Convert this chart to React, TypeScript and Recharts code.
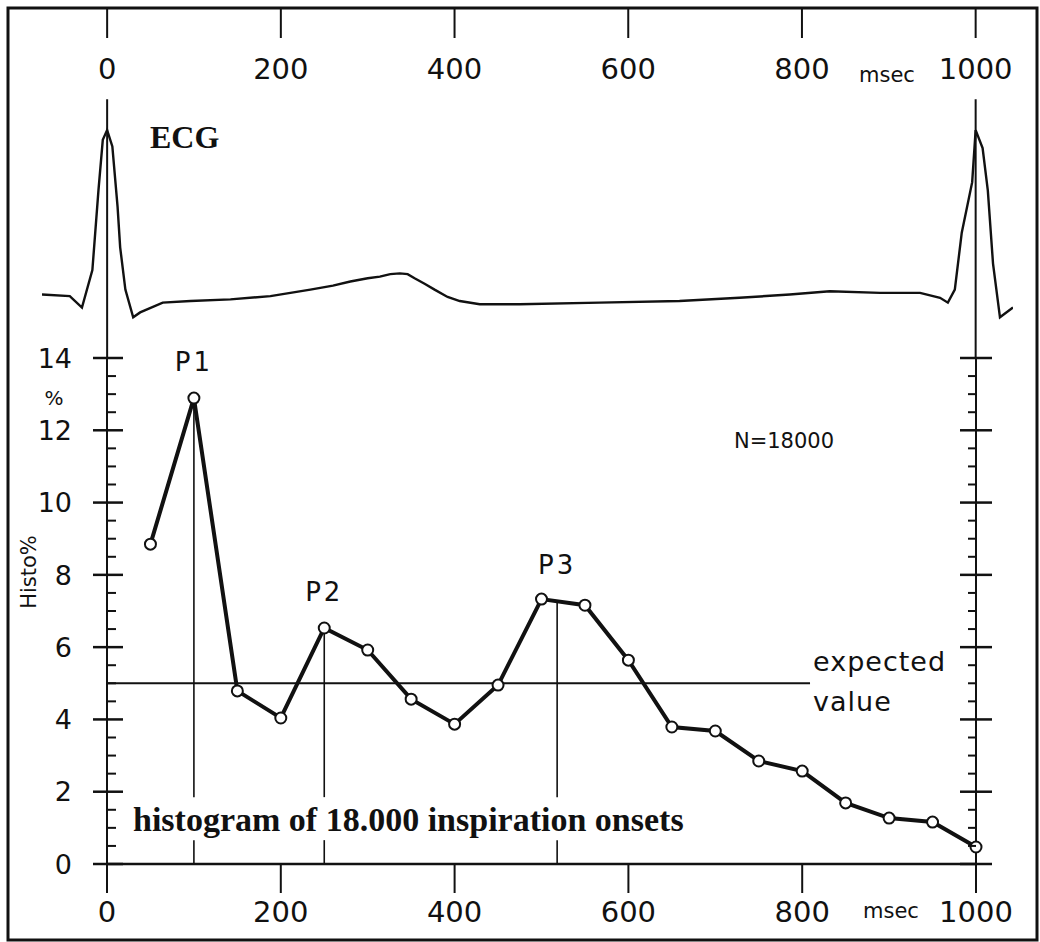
import React from "react";
import { ComposedChart, LineChart, Line, XAxis, YAxis, ReferenceLine } from "recharts";

const INK = "#111";
const SANS = "'DejaVu Sans', sans-serif";
const SERIF = "'Liberation Serif', serif";

// shared msec axis (top for the ECG, bottom for the histogram)
const msecTicks = [0, 200, 400, 600, 800, 1000];

// ECG trace: msec relative to R peak, amplitude in arbitrary mV
const ecgMsec = [-75, -43, -29, -17, -10, -5, 0, 6, 12, 15, 21, 30, 38, 64, 96, 142, 188, 234, 260, 280, 300, 314, 326, 337, 346, 354, 366, 377, 392, 406, 429, 475, 567, 659, 728, 786, 832, 890, 936, 959, 968, 976, 984, 996, 1000, 1008, 1014, 1020, 1028, 1043];
const ecgMv = [-0.01, -0.02, -0.09, 0.14, 0.63, 0.94, 1.0, 0.9, 0.53, 0.28, 0.02, -0.15, -0.12, -0.06, -0.05, -0.04, -0.02, 0.02, 0.045, 0.07, 0.09, 0.1, 0.115, 0.12, 0.115, 0.09, 0.055, 0.02, -0.025, -0.05, -0.07, -0.07, -0.06, -0.05, -0.03, -0.01, 0.01, 0.0, 0.0, -0.03, -0.06, 0.02, 0.37, 0.68, 1.0, 0.89, 0.63, 0.18, -0.15, -0.09];

// histogram of inspiration onsets
const binMsec = [50, 100, 150, 200, 250, 300, 350, 400, 450, 500, 550, 600, 650, 700, 750, 800, 850, 900, 950, 1000];
const histoPct = [8.85, 12.89, 4.79, 4.04, 6.53, 5.92, 4.56, 3.87, 4.95, 7.33, 7.16, 5.64, 3.79, 3.68, 2.85, 2.57, 1.69, 1.27, 1.16, 0.47];
const pctTicks = [0, 0.5, 1, 1.5, 2, 2.5, 3, 3.5, 4, 4.5, 5, 5.5, 6, 6.5, 7, 7.5, 8, 8.5, 9, 9.5, 10, 10.5, 11, 11.5, 12, 12.5, 13, 13.5, 14];
const expectedPct = 5;
const expectedEndMsec = 809;

const peakNames = ["P1", "P2", "P3"];
const peakMsec = [100, 250, 518];
const peakTopPct = [12.89, 6.53, 7.27];
// where the caption interrupts the peak markers
const captionGapPct = [0.66, 1.85];

const ecgData = ecgMsec.map((t, i) => ({ t, mv: ecgMv[i] }));
const histData = binMsec.map((msec, i) => ({ msec, pct: histoPct[i] }));

const LeftTick = ({ x, y, payload }: any) => {
  const v = payload.value;
  if (v % 2 !== 0) {
    return <line x1={x} x2={x + 9} y1={y} y2={y} stroke={INK} strokeWidth={2} />;
  }
  return (
    <g>
      <line x1={x - 14} x2={x + 16} y1={y} y2={y} stroke={INK} strokeWidth={2.5} />
      <text x={x - 35} y={y} dy="0.36em" textAnchor="end" fill={INK} fontSize={27} fontFamily={SANS}>
        {v}
      </text>
    </g>
  );
};

const RightTick = ({ x, y, payload }: any) => {
  const v = payload.value;
  if (v % 2 !== 0) {
    return <line x1={x - 8} x2={x} y1={y} y2={y} stroke={INK} strokeWidth={2} />;
  }
  return <line x1={x - 16} x2={x + 16} y1={y} y2={y} stroke={INK} strokeWidth={2.5} />;
};

const PeakLabel = ({ viewBox, name }: any) => {
  if (!viewBox) return null;
  return (
    <text x={viewBox.x} y={viewBox.y - 27} textAnchor="middle" fill={INK} fontSize={26} fontFamily={SANS} letterSpacing={3}>
      {name}
    </text>
  );
};

const ExpectedLabel = ({ viewBox }: any) => {
  if (!viewBox) return null;
  const x = viewBox.x + viewBox.width + 3;
  return (
    <g fill={INK} fontSize={27} fontFamily={SANS} letterSpacing={1}>
      <text x={x} y={viewBox.y - 12}>expected</text>
      <text x={x} y={viewBox.y + 28}>value</text>
    </g>
  );
};

export default function App() {
  return (
    <div style={{ position: "absolute", left: 0, top: 0, width: 1040, height: 942, background: "#fff" }}>
      <div style={{ position: "absolute", left: 0, top: 0 }}>
        <LineChart width={1040} height={360} data={ecgData} margin={{ top: 8, right: 27, bottom: 2, left: 42 }}>
          <XAxis
            type="number"
            dataKey="t"
            domain={[-75, 1043]}
            allowDataOverflow
            ticks={msecTicks}
            interval={0}
            orientation="top"
            mirror
            axisLine={false}
            tickSize={30}
            tickMargin={20}
            tickLine={{ stroke: INK, strokeWidth: 2 }}
            tick={{ fill: INK, fontSize: 29, fontFamily: SANS }}
          />
          <YAxis type="number" domain={[-0.4, 1.75]} allowDataOverflow hide />
          <ReferenceLine segment={[{ x: 0, y: 1.19 }, { x: 0, y: -0.4 }]} stroke={INK} strokeWidth={2} />
          <ReferenceLine segment={[{ x: 1000, y: 1.19 }, { x: 1000, y: -0.4 }]} stroke={INK} strokeWidth={2} />
          <Line dataKey="mv" type="linear" dot={false} stroke={INK} strokeWidth={2.4} isAnimationActive={false} />
        </LineChart>
      </div>

      <div style={{ position: "absolute", left: 0, top: 0 }}>
        <ComposedChart width={1040} height={942} data={histData} margin={{ top: 358, right: 0, bottom: 0, left: 0 }}>
          <XAxis
            type="number"
            dataKey="msec"
            domain={[0, 1000]}
            ticks={msecTicks}
            interval={0}
            height={78}
            tickSize={29}
            tickMargin={8}
            axisLine={{ stroke: INK, strokeWidth: 2.5 }}
            tickLine={{ stroke: INK, strokeWidth: 2 }}
            tick={{ fill: INK, fontSize: 29, fontFamily: SANS }}
          />
          <YAxis
            yAxisId="l"
            type="number"
            domain={[0, 14]}
            ticks={pctTicks}
            interval={0}
            width={107}
            tickSize={0}
            tickMargin={0}
            tickLine={false}
            axisLine={{ stroke: INK, strokeWidth: 2 }}
            tick={<LeftTick />}
          />
          <YAxis
            yAxisId="r"
            orientation="right"
            type="number"
            domain={[0, 14]}
            ticks={pctTicks}
            interval={0}
            width={64}
            tickSize={0}
            tickMargin={0}
            tickLine={false}
            axisLine={{ stroke: INK, strokeWidth: 2 }}
            tick={<RightTick />}
          />
          <ReferenceLine
            yAxisId="l"
            segment={[{ x: 0, y: expectedPct }, { x: expectedEndMsec, y: expectedPct }]}
            stroke={INK}
            strokeWidth={2}
            label={<ExpectedLabel />}
          />
          {peakNames.map((name, i) => (
            <ReferenceLine
              key={name}
              yAxisId="l"
              segment={[{ x: peakMsec[i], y: peakTopPct[i] }, { x: peakMsec[i], y: captionGapPct[1] }]}
              stroke={INK}
              strokeWidth={1.6}
              label={<PeakLabel name={name} />}
            />
          ))}
          {peakNames.map((name, i) => (
            <ReferenceLine
              key={name + "-low"}
              yAxisId="l"
              segment={[{ x: peakMsec[i], y: captionGapPct[0] }, { x: peakMsec[i], y: 0 }]}
              stroke={INK}
              strokeWidth={1.6}
            />
          ))}
          {/* the right-hand scale needs a series bound to it before it renders ticks */}
          <Line
            yAxisId="r"
            dataKey="pct"
            type="linear"
            stroke="none"
            dot={false}
            activeDot={false}
            isAnimationActive={false}
          />
          <Line
            yAxisId="l"
            dataKey="pct"
            type="linear"
            stroke={INK}
            strokeWidth={4}
            dot={{ r: 5.5, fill: "#fff", stroke: INK, strokeWidth: 2 }}
            isAnimationActive={false}
          />
        </ComposedChart>
      </div>

      <svg width={1040} height={942} style={{ position: "absolute", left: 0, top: 0, pointerEvents: "none" }}>
        <rect x={8} y={8} width={1029} height={932} fill="none" stroke={INK} strokeWidth={3} />
        <text x={150} y={148} fill={INK} fontSize={32} fontWeight="bold" fontFamily={SERIF}>ECG</text>
        <text x={859} y={82} fill={INK} fontSize={21} fontFamily={SANS}>msec</text>
        <text x={863} y={918} fill={INK} fontSize={21} fontFamily={SANS}>msec</text>
        <text x={54} y={405} textAnchor="middle" fill={INK} fontSize={20} fontFamily={SANS}>%</text>
        <text x={36} y={572} textAnchor="middle" transform="rotate(-90 36 572)" fill={INK} fontSize={21} fontFamily={SANS}>Histo%</text>
        <text x={784} y={448} textAnchor="middle" fill={INK} fontSize={21} fontFamily={SANS}>N=18000</text>
        <text x={133} y={831} fill={INK} fontSize={34} fontWeight="bold" fontFamily={SERIF}>histogram of 18.000 inspiration onsets</text>
      </svg>
    </div>
  );
}
